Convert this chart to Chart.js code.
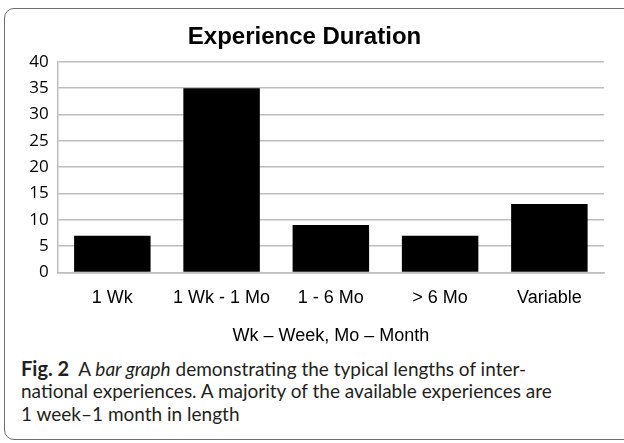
<!DOCTYPE html>
<html lang="en">

<head>
    <meta charset="UTF-8" />
    <title>Experience Duration</title>
    <script src="https://cdn.jsdelivr.net/npm/chart.js"></script>
    <style>
        html, body { margin: 0; padding: 0; background: #fff; }
        body { width: 624px; height: 443px; position: relative; overflow: hidden; }
        .moldura {
            position: absolute; left: 4px; top: 8px; width: 640px; height: 430px;
            border: 1px solid #6e6e6e; border-radius: 10px;
        }
        .grafico { position: absolute; left: 5px; top: 9px; width: 619px; height: 341px; }
        .legenda {
            position: absolute; left: 21px; top: 356.5px; width: 600px;
            font-family: Lato, "Open Sans", sans-serif; font-size: 19px; line-height: 22.5px;
            color: #231f20; white-space: nowrap;
        }
        .legenda b { font-weight: 700; font-size: 20px; }
    </style>
</head>

<body>
    <div class="moldura"></div>
    <div class="grafico"><canvas id="graficoBarras"></canvas></div>
    <div class="legenda">
        <b>Fig. 2</b>&nbsp; A <i>bar graph</i> demonstrating the typical lengths of inter-<br>
        national experiences. A majority of the available experiences are<br>
        1 week–1 month in length
    </div>

    <script>
        // dados do gráfico
        const categorias = ['1 Wk', '1 Wk - 1 Mo', '1 - 6 Mo', '> 6 Mo', 'Variable'];
        const valores = [7, 35, 9, 7, 13];
        const marcasY = [0, 5, 10, 15, 20, 25, 30, 35, 40];

        const cinza = '#bdbdbd';

        const ctx = document.getElementById('graficoBarras').getContext('2d');
        new Chart(ctx, {
            type: 'bar',
            data: {
                labels: categorias,
                datasets: [{
                    data: valores,
                    backgroundColor: '#000',
                    borderWidth: 0,
                    barPercentage: 0.7,
                    categoryPercentage: 1.0
                }]
            },
            options: {
                responsive: true,
                maintainAspectRatio: false,
                animation: false,
                layout: { padding: { top: 4, right: 20, bottom: 0, left: 0 } },
                plugins: {
                    legend: { display: false },
                    tooltip: { enabled: false },
                    title: {
                        display: true,
                        text: 'Experience Duration',
                        color: '#000',
                        font: { family: '"Liberation Sans", Arial, sans-serif', size: 24, weight: 'bold' },
                        padding: { top: 10, bottom: 10 }
                    }
                },
                scales: {
                    x: {
                        grid: { display: false, drawTicks: false },
                        border: { display: true, color: cinza, width: 1.5 },
                        ticks: {
                            color: '#000',
                            padding: 15,
                            font: { family: '"Liberation Sans", Arial, sans-serif', size: 18 }
                        },
                        title: {
                            display: true,
                            text: 'Wk – Week, Mo – Month',
                            color: '#000',
                            font: { family: '"Liberation Sans", Arial, sans-serif', size: 18 },
                            padding: { top: 4, bottom: 3 }
                        },
                        afterFit: (escala) => { escala.height = 77.5; }
                    },
                    y: {
                        min: 0,
                        max: 40,
                        afterBuildTicks: (escala) => { escala.ticks = marcasY.map(v => ({ value: v })); },
                        grid: { color: cinza, lineWidth: 1.5, drawTicks: false },
                        border: { display: true, color: cinza, width: 1.5 },
                        ticks: {
                            color: '#000',
                            padding: 9,
                            font: { family: '"Open Sans", sans-serif', size: 17 }
                        },
                        afterFit: (escala) => { escala.width = 52.7; }
                    }
                }
            }
        });
    </script>
</body>
</html>
